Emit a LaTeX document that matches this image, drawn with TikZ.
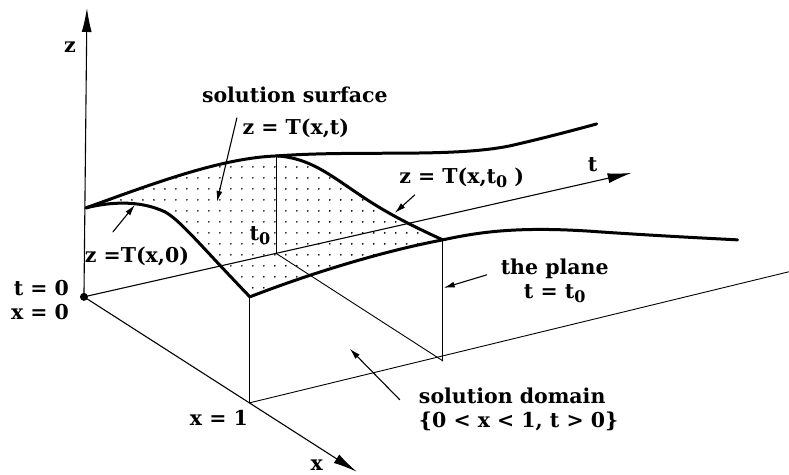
\documentclass[tikz,border=0pt]{standalone}
\usepackage{fontspec}
\setmainfont{DejaVu Serif}
\usetikzlibrary{arrows.meta,patterns.meta}
\newcommand{\lowidx}[1]{\raisebox{-0.4ex}{\fontsize{16}{16}\selectfont #1}}

\begin{document}
\begin{tikzpicture}[x=1pt,y=-1pt,>=Latex,line cap=round,line join=round]
\path[fill=white] (0,0) rectangle (789,475);
\tikzset{axis/.style={draw=black,line width=1.1pt,-{Latex[length=24pt,width=10pt]}},thinline/.style={draw=black,line width=0.9pt},edge/.style={draw=black,line width=3pt},pointer/.style={draw=black,line width=1.1pt,-{Latex[length=11pt,width=6pt]}},lbl/.style={font=\bfseries\fontsize{20.5}{24}\selectfont,inner sep=1pt}}
% base points and surface corners
\coordinate (O) at (84,297); \coordinate (ztip) at (87,8);
\coordinate (xtip) at (357,472); \coordinate (ttip) at (632,173);
\coordinate (xone) at (250,403); \coordinate (tnought) at (277,254);
\coordinate (corner) at (443,361); \coordinate (farend) at (789,272);
\coordinate (A) at (86,208); \coordinate (B) at (277,156);
\coordinate (C) at (443,240); \coordinate (D) at (250,297);
% dotted piece of the surface
\path[pattern={Dots[distance=11pt,radius=0.95pt]},pattern color=black] (A) .. controls (150,185) and (220,158) .. (B) .. controls (310,158) and (330,175) .. (360,195) .. controls (385,212) and (410,225) .. (C) .. controls (390,250) and (320,270) .. (D) .. controls (200,245) and (180,220) .. (165,212) .. controls (140,200) and (110,202) .. (A);
\draw[axis] (O) -- (ztip);
\draw[axis] (O) -- (xtip);
\draw[axis] (O) -- (ttip);
\draw[thinline] (xone) -- (farend);
\draw[thinline] (tnought) -- (corner);
\draw[thinline] (xone) -- (D);
\draw[thinline] (corner) -- (C);
\draw[thinline] (tnought) -- (B);
\fill (O) circle (4pt);
% edges of the solution surface
\draw[edge] (A) .. controls (150,185) and (220,158) .. (B) .. controls (360,150) and (450,158) .. (510,146) .. controls (545,138) and (575,130) .. (597,124);
\draw[edge] (A) .. controls (110,202) and (140,200) .. (165,212) .. controls (180,220) and (200,245) .. (D);
\draw[edge] (D) .. controls (320,270) and (390,250) .. (C) .. controls (480,232) and (520,226) .. (600,232) .. controls (660,236) and (700,238) .. (738,240);
\draw[edge] (B) .. controls (310,158) and (330,175) .. (360,195) .. controls (385,212) and (410,225) .. (C);
% labels
\node[lbl] (zlab) at (70,47) {z};
\node[lbl] (tlab) at (593,165) {t};
\node[lbl] (xlab) at (317,465) {x};
\node[lbl] (surf) at (295,95) {solution surface};
\node[lbl] (surfeq) at (296,128) {z = T(x,t)};
\node[lbl] (tzero) at (260,236) {t\lowidx{0}};
\node[lbl] (inicurve) at (137,257) {z =T(x,0)};
\node[lbl] (tcurve) at (462,178) {z = T(x,t\lowidx{0} )};
\node[lbl,align=right] (origin) at (40,300) {t = 0\\x = 0};
\node[lbl] (xonelab) at (219,418) {x = 1};
\node[lbl,align=center] (plane) at (555,281) {the plane\\t = t\lowidx{0}};
\node[lbl,anchor=west,align=left] (domain) at (418,410) {solution domain\\\{0 < x < 1, t > 0\}};
% pointers
\coordinate (ssFrom) at (237,118); \coordinate (ssTo) at (217,202);
\coordinate (icFrom) at (113,232); \coordinate (icTo) at (135,205);
\coordinate (tcFrom) at (415,195); \coordinate (tcTo) at (395,213);
\coordinate (plFrom) at (487,275); \coordinate (plTo) at (444,288);
\coordinate (dmFrom) at (400,400); \coordinate (dmTo) at (350,349);
\draw[pointer] (ssFrom) -- (ssTo);
\draw[pointer] (icFrom) -- (icTo);
\draw[pointer] (tcFrom) -- (tcTo);
\draw[pointer] (plFrom) -- (plTo);
\draw[pointer] (dmFrom) -- (dmTo);
\end{tikzpicture}
\end{document}
